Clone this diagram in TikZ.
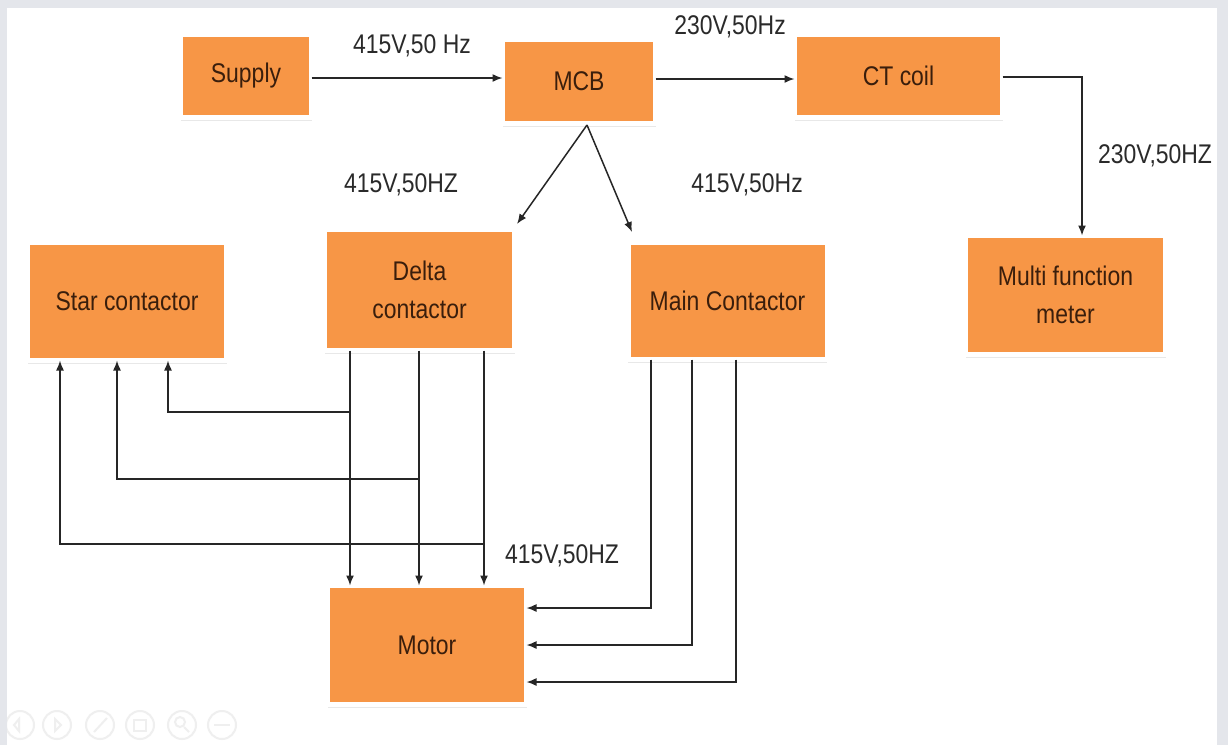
\documentclass[tikz,border=0pt]{standalone}
\usepackage{fontspec}
\setmainfont{Liberation Sans}[FakeStretch=0.85]
\usetikzlibrary{arrows.meta,shadows,calc}
\definecolor{boxorange}{HTML}{F79646}
\definecolor{boxtext}{HTML}{3A1E0C}
\definecolor{labeltext}{HTML}{2A2A2A}
\definecolor{linecol}{HTML}{262626}
\definecolor{framegray}{HTML}{E4E6EB}
\definecolor{iconcol}{HTML}{EFEFEF}
\tikzset{
  blk/.style={fill=boxorange, draw=white, line width=5pt, outer sep=0pt, inner sep=0pt,
    text=boxtext, font=\fontsize{27}{38}\selectfont, align=center,
    drop shadow={shadow xshift=0pt, shadow yshift=-3pt, opacity=0.15, fill=black!60}},
  lab/.style={text=labeltext, font=\fontsize{27}{32}\selectfont, inner sep=0pt},
  arr/.style={draw=linecol, line width=1.5pt, -{Latex[length=10pt,width=8pt]}},
  icon/.style={draw=iconcol, line width=2pt}
}
\begin{document}
\begin{tikzpicture}[x=1pt,y=-1pt]
\useasboundingbox (0,0) rectangle (1228,745);
\fill[framegray] (0,0) rectangle (1228,745);
\fill[white] (7,8) rectangle (1217,745);

% faint toolbar icons
\begin{scope}
\clip (7,8) rectangle (1217,745);
\foreach \cx in {20,57,100,140,182,222}{
  \draw[icon] (\cx,725) circle[radius=14];
}
\draw[icon] (14,725) -- (19,719) -- (19,731) -- cycle;
\draw[icon] (61,725) -- (55,719) -- (55,731) -- cycle;
\draw[icon] (94,732) -- (107,718);
\draw[icon] (134,720) rectangle (146,731);
\draw[icon] (180,722) circle[radius=5]; \draw[icon] (184,727) -- (189,732);
\draw[icon] (214,725) -- (230,725);
\end{scope}

% blocks
\node[blk, minimum width=131pt, minimum height=83pt] (sup) at (246,76) {Supply};
\node[blk, minimum width=153pt, minimum height=84pt] (mcb) at (579,81.5) {MCB};
\node[blk, minimum width=208pt, minimum height=83pt] (ct) at (898.5,76) {CT coil};
\node[blk, minimum width=200pt, minimum height=119pt] (mfm) at (1065.5,295) {Multi function\\meter};
\node[blk, minimum width=199pt, minimum height=118pt] (star) at (127,301.5) {Star contactor};
\node[blk, minimum width=190pt, minimum height=121pt] (delta) at (419.5,290) {Delta\\contactor};
\node[blk, minimum width=199pt, minimum height=117pt] (main) at (727.5,301) {Main Contactor};
\node[blk, minimum width=199pt, minimum height=119pt] (motor) at (427,645) {Motor};

% labels
\node[lab] (l1) at (412,46) {415V,50 Hz};
\node[lab] (l2) at (730,27) {230V,50Hz};
\node[lab] (l3) at (401,185) {415V,50HZ};
\node[lab] (l4) at (747,185) {415V,50Hz};
\node[lab] (l5) at (1155,156) {230V,50HZ};
\node[lab] (l6) at (562,556) {415V,50HZ};

% top connectors
\draw[arr] ([yshift=-2pt]sup.east) -- ([yshift=-2pt]sup.east -| mcb.west);
\draw[arr] ([yshift=2.5pt]mcb.east) -- ([yshift=2.5pt]mcb.east -| ct.west);
\coordinate (mfmin) at ([xshift=16.5pt]mfm.north);
\draw[arr] ([yshift=-1pt]ct.east) -| (mfmin);

% MCB split
\coordinate (split) at ([xshift=8pt,yshift=-1.5pt]mcb.south);
\coordinate (dtip) at (517,224);
\coordinate (mtip) at (632,232);
\draw[arr] (split) -- (dtip);
\draw[arr] (split) -- (mtip);

% delta to motor
\coordinate (d1) at ([xshift=-69.5pt]delta.south);
\coordinate (d2) at ([xshift=-0.5pt]delta.south);
\coordinate (d3) at ([xshift=64.5pt]delta.south);
\draw[arr] (d1) -- (d1 |- motor.north);
\draw[arr] (d2) -- (d2 |- motor.north);
\draw[arr] (d3) -- (d3 |- motor.north);

% delta to star
\coordinate (s1) at ([xshift=-67pt]star.south);
\coordinate (s2) at ([xshift=-10pt]star.south);
\coordinate (s3) at ([xshift=41pt]star.south);
\draw[arr] (d1 |- 0,412) -| (s3);
\draw[arr] (d2 |- 0,479) -| (s2);
\draw[arr] (d3 |- 0,544) -| (s1);

% main contactor to motor
\coordinate (m1) at ([xshift=-76.5pt]main.south);
\coordinate (m2) at ([xshift=-35.5pt]main.south);
\coordinate (m3) at ([xshift=8.5pt]main.south);
\draw[arr] (m1) |- (motor.east |- 0,608);
\draw[arr] (m2) |- (motor.east |- 0,645);
\draw[arr] (m3) |- (motor.east |- 0,682);
\end{tikzpicture}
\end{document}
